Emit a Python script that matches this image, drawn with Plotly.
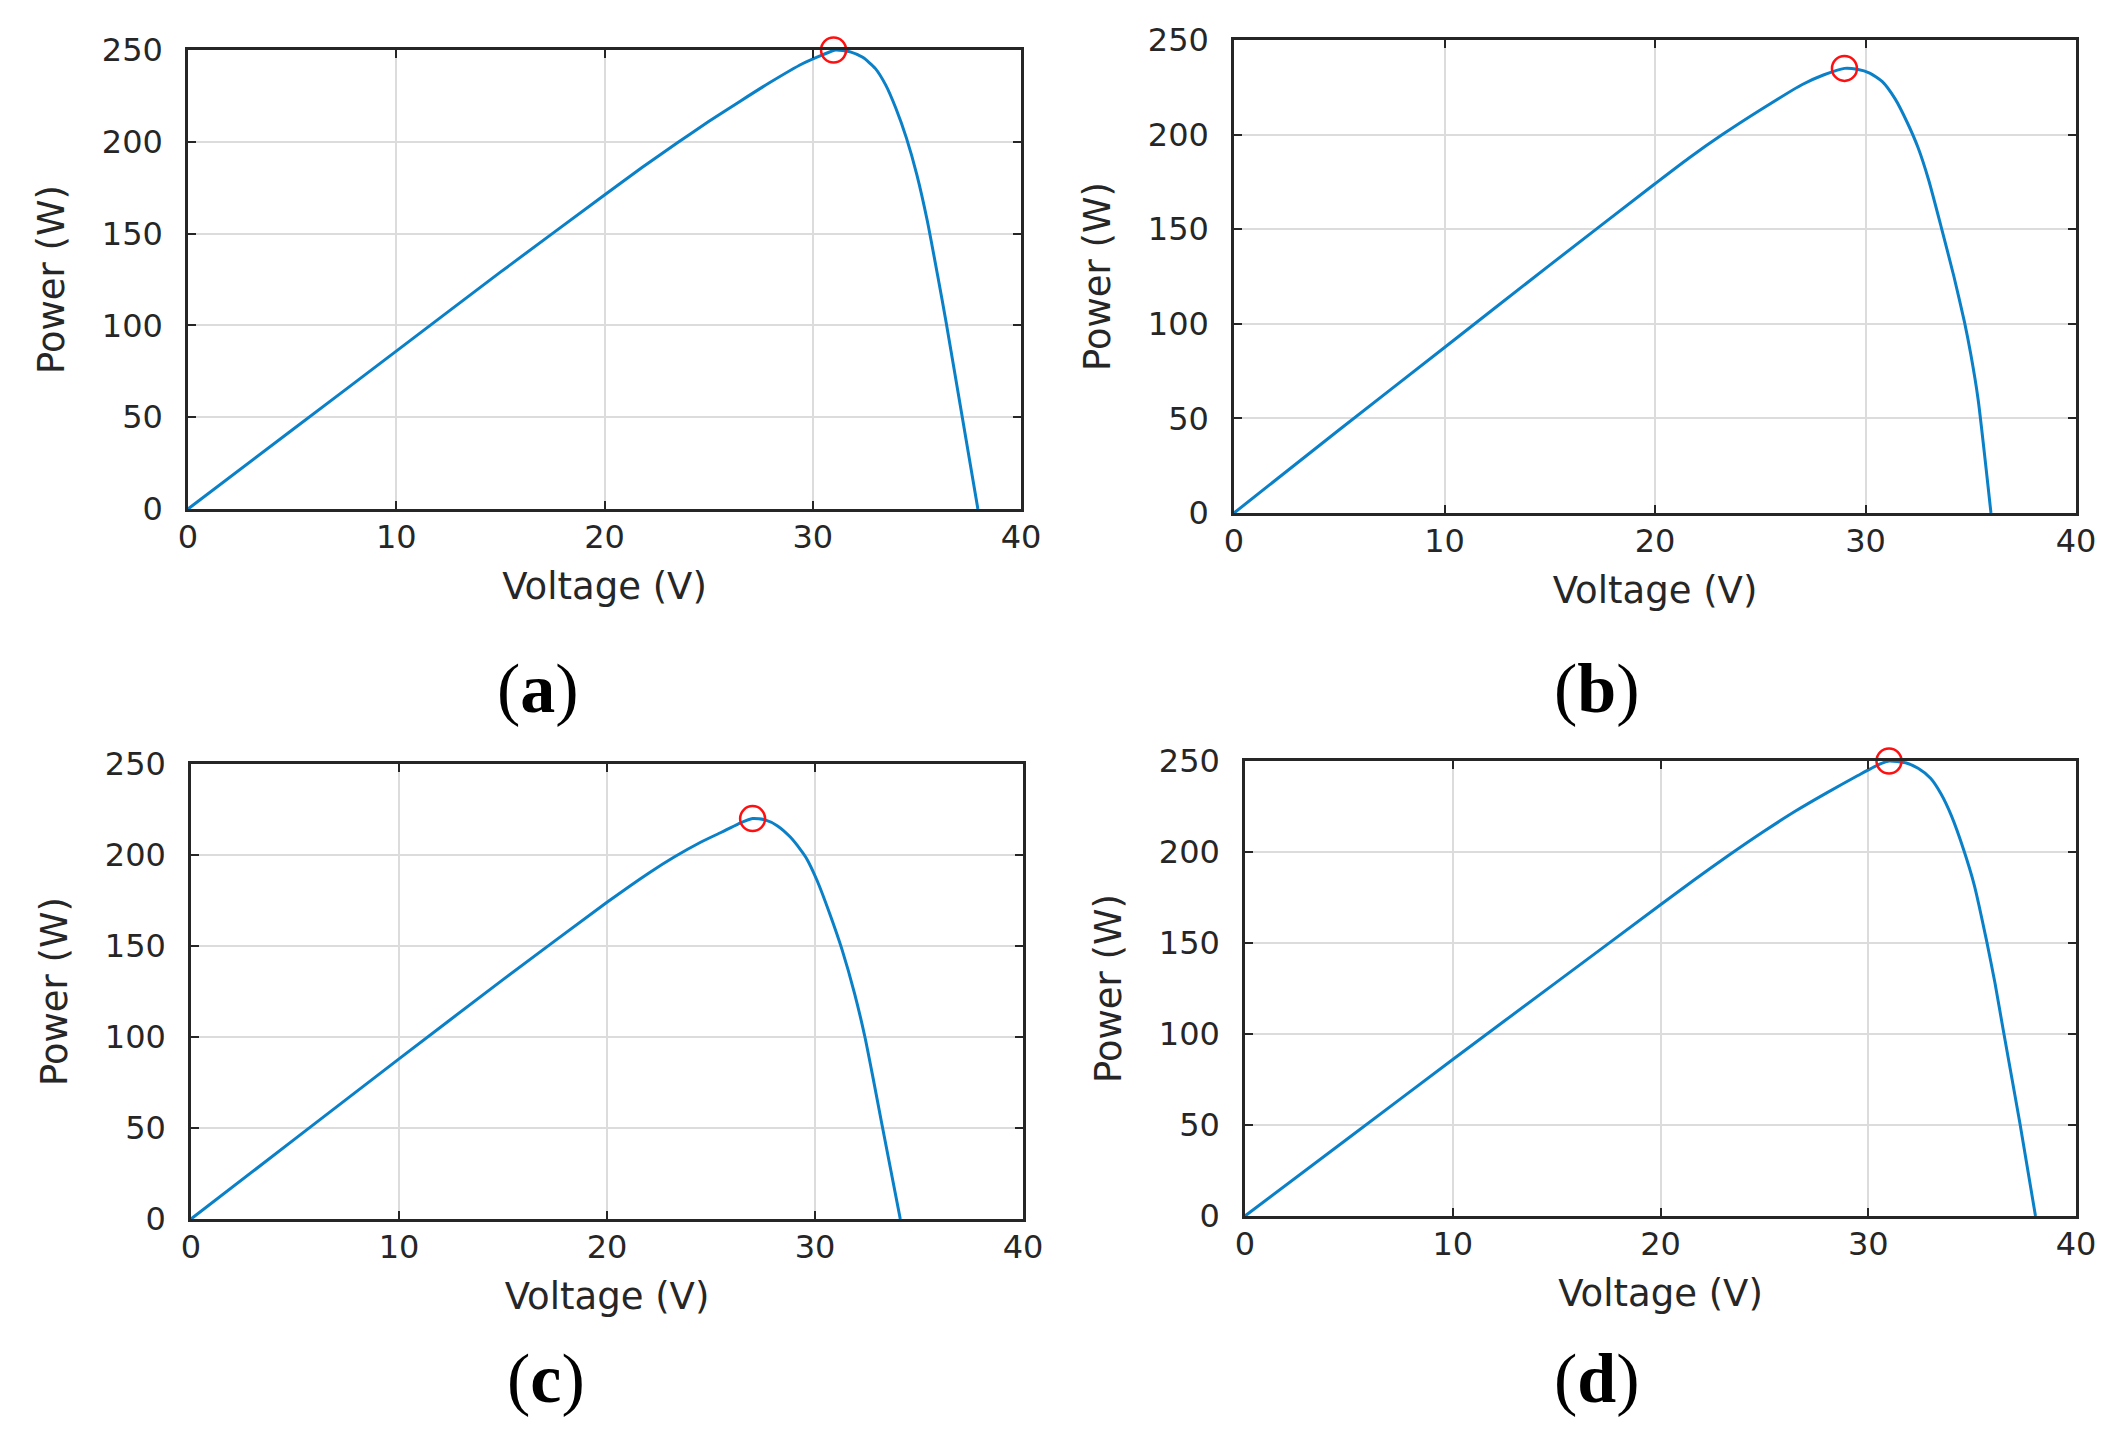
import plotly.graph_objects as go

W, H = 2120, 1446

# P-V curves (voltage in V, power in W)
volt_a = [0, 5, 10, 15, 20, 21.8, 23.5, 25, 26.5, 27.9, 29.5, 30.5, 31.1, 31.8, 32.4,
          33.0, 33.5, 34.0, 34.5, 35.0, 35.5, 36.0, 36.4, 37.15, 37.93]
power_a = [0, 43, 86, 129, 171, 186, 199.5, 211, 222, 232, 242.5, 247.5, 250, 249, 246,
           240, 231, 218, 202, 182, 157, 127, 102, 52, 0]

volt_b = [0, 5, 10, 15, 20, 21.6, 23.2, 25, 27, 28, 29, 29.6, 30.2, 30.8, 31.4, 32.0,
          32.5, 33.0, 33.6, 34.2, 34.7, 35.0, 35.35, 35.96]
power_b = [0, 44, 87.5, 131, 174, 187.5, 200, 213, 226.5, 231.5, 235, 234.5, 232.5, 228,
           219, 206, 193, 176, 151, 125, 101, 84, 60, 0]

volt_c = [0, 5, 10, 15, 20, 22, 23.25, 24.5, 25.5, 26.3, 27, 27.6, 28.2, 28.8, 29.3,
          29.6, 30.1, 30.7, 31.3, 31.9, 32.4, 32.8, 33.2, 34.1]
power_c = [0, 44, 88, 131.5, 174, 190, 199, 207, 212.5, 217, 220, 219.3, 216, 210, 203,
           198, 186, 168, 148, 124, 100, 77, 53, 0]

volt_d = [0, 5, 10, 15, 20, 21.6, 23.2, 25, 26.5, 28, 29.5, 30.5, 31, 31.8, 32.4, 33.0,
          33.5, 34.0, 34.6, 35.1, 35.7, 36.1, 36.5, 37.3, 38.05]
power_d = [0, 43, 86, 128.5, 171, 184.5, 197.5, 211.5, 222.5, 232.5, 242, 248, 250, 249,
           246, 240.5, 232, 220, 201, 182, 151, 128, 102, 51, 0]

# maximum power points (red circles)
mpp_v = [31, 29, 27, 31]
mpp_p = [250, 235, 220, 250]

labels = ["a", "b", "c", "d"]

# plot area boxes in pixels: left, right, top, bottom
boxes = [(180, 1013, 42, 501), (1226, 2068, 32, 505),
         (183, 1015, 756, 1211), (1237, 2068, 753, 1208)]
# panel label centres in pixels
label_pos = [(530, 680), (1589, 680), (538, 1370), (1589, 1370)]

curves = [(volt_a, power_a), (volt_b, power_b), (volt_c, power_c), (volt_d, power_d)]

TXT = "#262626"
FONT = "DejaVu Sans"

fig = go.Figure()
layout = {}
for i, (vv, pp) in enumerate(curves):
    n = "" if i == 0 else str(i + 1)
    fig.add_trace(go.Scatter(
        x=vv, y=pp, mode="lines", xaxis="x" + n, yaxis="y" + n,
        line=dict(color="#0A80C8", width=3, shape="spline", smoothing=0.6),
        showlegend=False))
    fig.add_trace(go.Scatter(
        x=[mpp_v[i]], y=[mpp_p[i]], mode="markers", xaxis="x" + n, yaxis="y" + n,
        marker=dict(symbol="circle-open", size=25, color="#FF1010",
                    line=dict(width=2.5, color="#FF1010")),
        cliponaxis=False, showlegend=False))

    l, r, t, b = boxes[i]
    common = dict(showline=True, linecolor=TXT, linewidth=2.5, mirror="allticks",
                  ticks="inside", ticklen=8, tickwidth=2, tickcolor=TXT,
                  showgrid=True, gridcolor="#DCDCDC", gridwidth=2, zeroline=False,
                  automargin=False,
                  tickfont=dict(family=FONT, size=32, color=TXT))
    layout["xaxis" + n] = dict(
        common, domain=[l / W, r / W], anchor="y" + n, range=[0, 40], dtick=10,
        ticklabelstandoff=-2,
        title=dict(text="Voltage (V)", font=dict(family=FONT, size=37, color=TXT),
                   standoff=18))
    layout["yaxis" + n] = dict(
        common, domain=[1 - b / H, 1 - t / H], anchor="x" + n, range=[0, 250],
        dtick=50, ticklabelstandoff=16,
        title=dict(text="Power (W)", font=dict(family=FONT, size=37, color=TXT),
                   standoff=26))

annotations = []
for i, lab in enumerate(labels):
    cx, cy = label_pos[i]
    annotations.append(dict(
        text="(<b>" + lab + "</b>)", x=cx / W, y=1 - cy / H, xref="paper", yref="paper",
        xanchor="center", yanchor="middle", showarrow=False,
        font=dict(family="Liberation Serif", size=70, color="#000000")))

fig.update_layout(
    width=W, height=H, margin=dict(l=0, r=0, t=0, b=0),
    paper_bgcolor="white", plot_bgcolor="white",
    annotations=annotations, **layout)

fig.write_html("out.html")
